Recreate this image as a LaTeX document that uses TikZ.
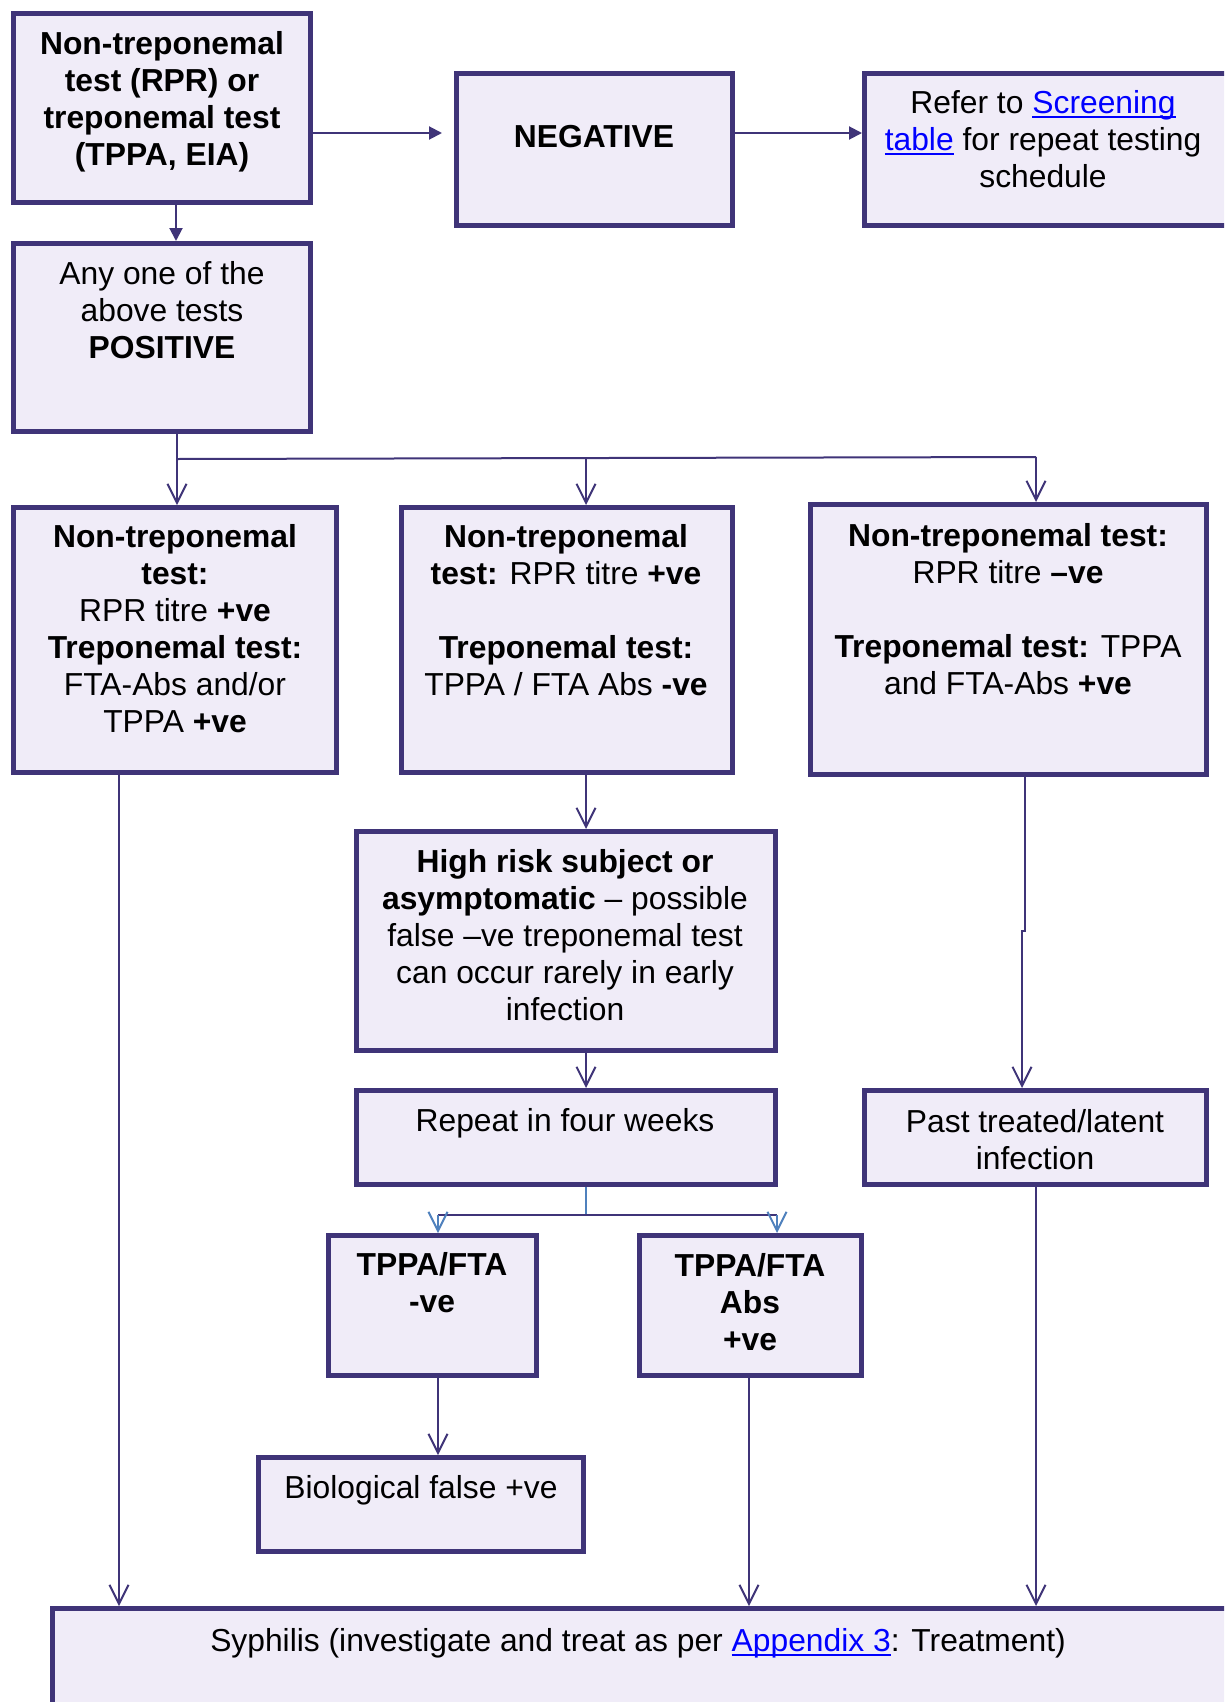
\documentclass[tikz,border=0pt]{standalone}
\usepackage{fontspec}
\setmainfont{Liberation Sans}
\usetikzlibrary{arrows.meta,calc}
\definecolor{bord}{RGB}{63,52,120}
\definecolor{boxfill}{RGB}{240,236,248}
\definecolor{lblue}{RGB}{79,129,189}
\definecolor{linkblue}{RGB}{0,0,255}
\newcommand\lnk[1]{{\color{linkblue}\setbox0\hbox{#1}\rlap{\rule[-5pt]{\wd0}{2.2pt}}\box0}}
\tikzset{
  box/.style={draw=bord, fill=boxfill, line width=5pt, inner sep=0pt},
  txt/.style={align=center, font=\fontsize{31.8}{37}\selectfont, inner sep=0pt, text=black},
  conn/.style={draw=bord, line width=2pt},
  farrow/.style={conn, -{Triangle[length=13pt,width=13pt]}},
  varrow/.style={conn, -{Straight Barb[length=19pt,width=19pt]}},
  barrow/.style={draw=lblue, line width=2pt, -{Straight Barb[length=19pt,width=19pt]}},
}
\begin{document}
\begin{tikzpicture}[x=1pt,y=-1pt]
\path[use as bounding box, clip] (0,0) rectangle (1224,1702);
\fill[white] (0,0) rectangle (1224,1702);

% boxes
\node[box, minimum width=297, minimum height=189] (b1) at (162,108) {};
\node[box, minimum width=276, minimum height=152] (neg) at (594.5,149.5) {};
\node[box, minimum width=373, minimum height=152] (ref) at (1051,149.5) {};
\node[box, minimum width=297, minimum height=188] (b2) at (162,337.5) {};
\node[box, minimum width=323, minimum height=265] (b3) at (175,640) {};
\node[box, minimum width=331, minimum height=265] (b4) at (567,640) {};
\node[box, minimum width=396, minimum height=270] (b5) at (1008.5,639.5) {};
\node[box, minimum width=419, minimum height=219] (b6) at (566,941) {};
\node[box, minimum width=419, minimum height=94] (b7) at (566,1137.5) {};
\node[box, minimum width=342, minimum height=94] (b12) at (1035.5,1137.5) {};
\node[box, minimum width=208, minimum height=140] (b8) at (432.5,1305.5) {};
\node[box, minimum width=222, minimum height=140] (b9) at (750.5,1305.5) {};
\node[box, minimum width=325, minimum height=94] (b10) at (421,1504.5) {};
\node[box, minimum width=1185, minimum height=129] (b11) at (645,1673) {};

% texts
\node[txt] (t1) at (162,102) {\bfseries Non-treponemal\\\bfseries test (RPR) or\\\bfseries treponemal test\\\bfseries (TPPA, EIA)};
\node[txt] (tneg) at (594,137) {\bfseries NEGATIVE};
\node[txt] (tref) at (1043,139) {Refer to \lnk{Screening}\\\lnk{table} for repeat testing\\schedule};
\node[txt] (t2) at (162,310) {Any one of the\\above tests\\\bfseries POSITIVE};
\node[txt] (t3) at (175,629) {\textbf{Non-treponemal}\\\textbf{test:}\\RPR titre \textbf{+ve}\\\textbf{Treponemal test:}\\FTA-Abs and/or\\TPPA \textbf{+ve}};
\node[txt] (t4) at (566,610) {\textbf{Non-treponemal}\\\textbf{test:} RPR titre \textbf{+ve}\\[37pt]\textbf{Treponemal test:}\\TPPA / FTA Abs \textbf{-ve}};
\node[txt] (t5) at (1008,609) {\textbf{Non-treponemal test:}\\RPR titre \textbf{–ve}\\[37pt]\textbf{Treponemal test:} TPPA\\and FTA-Abs \textbf{+ve}};
\node[txt] (t6) at (565,935) {\textbf{High risk subject or}\\\textbf{asymptomatic} – possible\\false –ve treponemal test\\can occur rarely in early\\infection};
\node[txt] (t7) at (565,1123) {Repeat in four weeks};
\node[txt] (t12) at (1035,1140) {Past treated/latent\\infection};
\node[txt] (t8) at (432,1283) {\bfseries TPPA/FTA\\\bfseries -ve};
\node[txt] (t9) at (750,1302) {\bfseries TPPA/FTA\\\bfseries Abs\\\bfseries +ve};
\node[txt] (t10) at (421,1490) {Biological false +ve};
\node[txt] (t11) at (638,1643) {Syphilis (investigate and treat as per \lnk{Appendix 3}: Treatment)};

% helper coordinates
\coordinate (y133) at (0,133);
\coordinate (x176) at (176,0);
\coordinate (j1) at (177,459);
\coordinate (j2) at (1036,457);
\coordinate (x586) at (586,0);
\coordinate (x119) at (119,0);
\coordinate (k0) at (586,1215);
\coordinate (k1) at (438,1215);
\coordinate (k2) at (777,1215);
\coordinate (x749) at (749,0);
\coordinate (r1) at (1025,931);
\coordinate (r2) at (1022,931);
\coordinate (x1036) at (1036,0);

% connectors
\draw[farrow, shorten >=12pt] (b1.east |- y133) -- (neg.west |- y133);
\draw[farrow] (neg.east |- y133) -- (ref.west |- y133);
\draw[farrow] (b1.south -| x176) -- (b2.north -| x176);
\draw[varrow] (b2.south -| j1) -- (b3.north -| j1);
\draw[conn] (j1) -- (j2);
\draw[varrow] (j1 -| x586) -- (b4.north -| x586);
\draw[varrow] (j2) -- (b5.north -| j2);
\draw[varrow] (b3.south -| x119) -- (b11.north -| x119);
\draw[varrow] (b4.south -| x586) -- (b6.north -| x586);
\draw[varrow] (b6.south -| x586) -- (b7.north -| x586);
\draw[draw=lblue, line width=2pt] (b7.south -| k0) -- (k0);
\draw[conn] (k1) -- (k2);
\draw[barrow] (k1) -- (b8.north -| k1);
\draw[barrow] (k2) -- (b9.north -| k2);
\draw[varrow] (b8.south -| k1) -- (b10.north -| k1);
\draw[varrow] (b9.south -| x749) -- (b11.north -| x749);
\draw[varrow] (b5.south -| r1) -- (r1) -- (r2) -- (b12.north -| r2);
\draw[varrow] (b12.south -| x1036) -- (b11.north -| x1036);
\end{tikzpicture}
\end{document}
